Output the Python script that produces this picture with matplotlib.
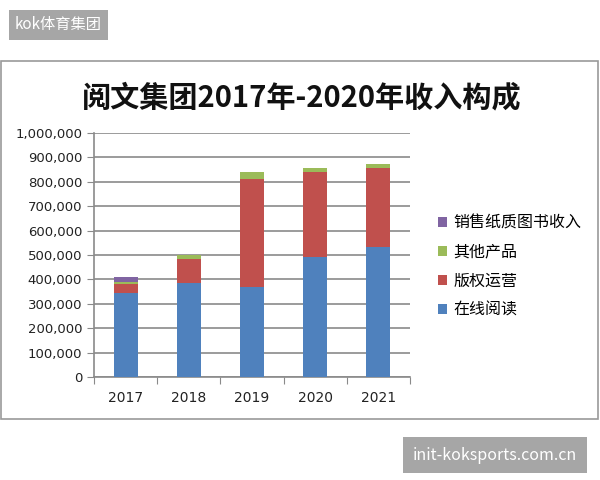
import numpy as np
import matplotlib.pyplot as plt
from matplotlib.patches import Rectangle

plt.rcParams['font.family'] = ['Noto Sans CJK SC', 'DejaVu Sans']

# 数据
years = ['2017', '2018', '2019', '2020', '2021']
zaixian_yuedu = [345000, 386000, 370000, 493000, 534000]
banquan_yunying = [36000, 96000, 441000, 348000, 321000]
qita_chanpin = [8000, 18000, 30000, 15000, 18000]
zhizhi_tushu = [22000, 0, 0, 0, 0]

series = [
    ('在线阅读', zaixian_yuedu, '#4F81BD'),
    ('版权运营', banquan_yunying, '#C0504D'),
    ('其他产品', qita_chanpin, '#9BBB59'),
    ('销售纸质图书收入', zhizhi_tushu, '#8064A2'),
]

fig = plt.figure(figsize=(6, 4.8), dpi=100)

# 外框
fig.patches.append(Rectangle((1 / 600, 61 / 480), 597 / 600, (419 - 61) / 480,
                             transform=fig.transFigure, fill=False,
                             edgecolor='#9a9a9a', linewidth=1.2))

ax = fig.add_axes([94 / 600, 103 / 480, 316 / 600, 244 / 480])

x = np.arange(len(years))
bottom = np.zeros(len(years))
handles = []
for nome, vals, cor in series:
    h = ax.bar(x, vals, width=0.38, bottom=bottom, color=cor, label=nome, zorder=3)
    handles.append(h)
    bottom += np.array(vals)

ax.set_xlim(-0.5, len(years) - 0.5)
ax.set_ylim(0, 1000000)
ax.set_yticks(np.arange(0, 1000001, 100000))
ax.set_yticklabels([f'{v:,}' for v in range(0, 1000001, 100000)],
                   fontsize=9.5, family='DejaVu Sans', color='#222222')
ax.yaxis.grid(True, color='#8a8a8a', linewidth=1.2, zorder=0)

ax.set_xticks(np.arange(-0.5, len(years), 1))
ax.set_xticklabels([])
ax.set_xticks(x, minor=True)
ax.set_xticklabels(years, minor=True, fontsize=10, family='DejaVu Sans', color='#222222')
ax.tick_params(axis='x', which='minor', length=0, pad=10)
ax.tick_params(axis='x', which='major', length=5, color='#8a8a8a')
ax.tick_params(axis='y', length=5, color='#8a8a8a')

for s in ['top', 'right']:
    ax.spines[s].set_visible(False)
for s in ['left', 'bottom']:
    ax.spines[s].set_color('#8a8a8a')
    ax.spines[s].set_linewidth(1.2)

fig.text(0.503, 0.798, '阅文集团2017年-2020年收入构成', ha='center', va='center',
         fontsize=21, fontweight='bold', color='#111111')

fig.legend(handles[::-1], [s[0] for s in series][::-1], loc='center left',
           bbox_to_anchor=(424 / 600, 0.445), frameon=False, fontsize=11.5,
           handlelength=0.55, handleheight=0.55, handletextpad=0.4, labelspacing=0.75)

# 水印标签
fig.text(15 / 600, 1 - 25 / 480, 'kok体育集团', ha='left', va='center', fontsize=11,
         color='white', bbox=dict(boxstyle='square,pad=0.4', fc='#a6a6a6', ec='none'))
fig.text(413 / 600, 1 - 455 / 480, 'init-koksports.com.cn', ha='left', va='center',
         fontsize=11.5, color='white',
         bbox=dict(boxstyle='square,pad=0.6', fc='#a6a6a6', ec='none'))

fig.savefig('out.png', dpi=100)
